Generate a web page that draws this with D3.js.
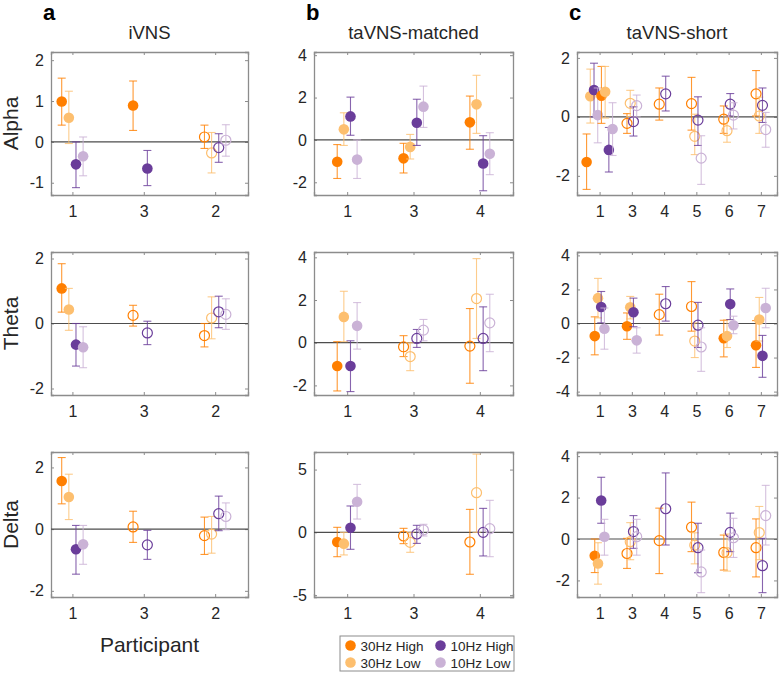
<!DOCTYPE html>
<html>
<head>
<meta charset="utf-8">
<script src="https://cdn.jsdelivr.net/npm/d3@7/dist/d3.min.js"></script>
<style>
  body { margin: 0; background: #fff; }
  svg { font-family: "Liberation Sans", Arial, Helvetica, sans-serif; }
</style>
</head>
<body>
<div id="vis"></div>
<script>
// Conditions, in the order markers sit around each participant
var conditions = ['30Hz High', '30Hz Low', '10Hz High', '10Hz Low'];
var condColors = ['#ff7f00', '#fdbf6f', '#6a3d9a', '#cab2d6'];

var bands = ['Alpha', 'Theta', 'Delta'];
var groups = ['iVNS', 'taVNS-matched', 'taVNS-short'];
var letters = ['a', 'b', 'c'];

// y axis ranges and ticks, row by row (a, b, c)
var yDomains = [
  [[-1.3, 2.2], [-2.6, 4.15], [-2.65, 2.2]],
  [[-2.2, 2.2], [-2.45, 4.25], [-4.2, 4.2]],
  [[-2.2, 2.5], [-5.15, 6.4], [-2.8, 4.2]]
];
var yTicks = [
  [[-1, 0, 1, 2], [-2, 0, 2, 4], [-2, 0, 2]],
  [[-2, 0, 2], [-2, 0, 2, 4], [-4, -2, 0, 2, 4]],
  [[-2, 0, 2], [-5, 0, 5], [-2, 0, 2, 4]]
];

// each row: participant, filled marker?, then [mean, lower, upper] per condition
// (null = condition not recorded)
var alphaA = [
  ['1', 1, [0.99, 0.41, 1.56], [0.59, -0.04, 1.24], [-0.55, -1.12, 0.0], [-0.35, -0.83, 0.12]],
  ['3', 1, [0.89, 0.28, 1.49], null, [-0.65, -1.07, -0.21], null],
  ['2', 0, [0.12, -0.16, 0.41], [-0.27, -0.76, 0.23], [-0.14, -0.5, 0.2], [0.04, -0.35, 0.42]]
];
var alphaB = [
  ['1', 1, [-1.03, -1.82, -0.22], [0.5, -0.26, 1.28], [1.11, 0.22, 2.02], [-0.93, -1.82, 0.0]],
  ['3', 1, [-0.87, -1.56, -0.16], [-0.33, -0.9, 0.26], [0.81, -0.26, 1.92], [1.57, 0.59, 2.54]],
  ['4', 1, [0.83, -0.44, 2.07], [1.68, 0.31, 3.05], [-1.11, -2.4, 0.2], [-0.65, -1.64, 0.34]]
];
var alphaC = [
  ['1', 1, [-1.53, -2.46, -0.58], [0.7, -0.21, 1.62], [0.91, 0.0, 1.82], [0.06, -0.88, 0.98],
           [0.72, -0.22, 1.71], [0.85, -0.04, 1.71], [-1.12, -1.87, -0.36], [-0.41, -1.31, 0.48]],
  ['3', 0, [-0.22, -0.56, 0.11], [0.46, 0.01, 0.9], [-0.16, -0.65, 0.34], [0.38, 0.0, 0.74]],
  ['4', 0, [0.43, -0.11, 0.98], null, [0.78, 0.2, 1.38], null],
  ['5', 0, [0.45, -0.45, 1.34], [-0.66, -1.28, 0.09], [-0.11, -0.97, 0.68], [-1.4, -2.29, -0.64]],
  ['6', 0, [-0.08, -0.56, 0.37], [-0.47, -0.86, 0.03], [0.43, 0.03, 0.79], [0.06, -0.41, 0.48]],
  ['7', 0, [0.78, 0.03, 1.57], [0.03, -0.56, 0.67], [0.39, -0.19, 0.98], [-0.43, -1.03, 0.15]]
];

var thetaA = [
  ['1', 1, [1.08, 0.35, 1.84], [0.43, -0.21, 1.08], [-0.65, -1.31, 0.0], [-0.73, -1.36, -0.1]],
  ['3', 0, [0.25, -0.08, 0.56], null, [-0.29, -0.65, 0.07], null],
  ['2', 0, [-0.37, -0.72, 0.0], [0.17, -0.47, 0.82], [0.36, -0.13, 0.84], [0.28, -0.18, 0.76]]
];
var thetaB = [
  ['1', 1, [-1.09, -2.26, 0.05], [1.21, 0.05, 2.41], [-1.09, -2.29, 0.09], [0.79, -0.3, 1.88]],
  ['3', 0, [-0.19, -0.65, 0.33], [-0.65, -1.31, 0.0], [0.2, -0.22, 0.62], [0.59, 0.09, 1.09]],
  ['4', 0, [-0.16, -1.9, 1.6], [2.07, 0.2, 3.94], [0.2, -1.31, 1.68], [0.93, -0.42, 2.27]]
];
var thetaC = [
  ['1', 1, [-0.74, -1.84, 0.39], [1.49, 0.33, 2.65], [0.97, 0.04, 1.88], [-0.31, -1.51, 0.91]],
  ['3', 1, [-0.16, -0.93, 0.62], [0.95, 0.27, 1.59], [0.66, -0.19, 1.49], [-0.99, -1.74, -0.25]],
  ['4', 0, [0.52, -0.68, 1.72], null, [1.16, 0.14, 2.17], null],
  ['5', 0, [1.0, -0.45, 2.46], [-1.03, -2.0, 0.04], [-0.1, -1.41, 1.24], [-1.38, -2.81, -0.25]],
  ['6', 1, [-0.87, -1.96, 0.19], [-0.74, -1.41, 0.23], [1.14, 0.23, 2.03], [-0.1, -0.6, 0.43]],
  ['7', 1, [-1.28, -2.58, 0.17], [0.23, -1.03, 1.53], [-1.9, -3.16, -0.7], [0.91, -0.25, 2.07]]
];

var deltaA = [
  ['1', 1, [1.56, 0.82, 2.32], [1.04, 0.31, 1.78], [-0.65, -1.46, 0.12], [-0.49, -1.14, 0.12]],
  ['3', 0, [0.07, -0.43, 0.58], null, [-0.51, -0.98, -0.04], null],
  ['2', 0, [-0.21, -0.82, 0.39], [-0.16, -0.78, 0.41], [0.5, -0.05, 1.07], [0.41, -0.02, 0.85]]
];
var deltaB = [
  ['1', 1, [-0.77, -1.94, 0.4], [-0.9, -1.8, 0.0], [0.37, -1.35, 2.1], [2.44, 1.06, 3.82]],
  ['3', 0, [-0.29, -0.9, 0.32], [-0.8, -1.59, 0.0], [-0.13, -0.88, 0.56], [0.19, -0.29, 0.64]],
  ['4', 0, [-0.77, -3.34, 1.83], [3.16, 0.0, 6.23], [0.0, -1.88, 1.91], [0.29, -1.94, 2.55]]
];
var deltaC = [
  ['1', 1, [-0.81, -1.62, 0.0], [-1.18, -2.18, -0.18], [1.86, 0.76, 2.98], [0.11, -0.78, 0.95]],
  ['3', 0, [-0.7, -1.42, 0.03], [-0.13, -1.0, 0.79], [0.36, -0.45, 1.13], [0.11, -0.78, 0.95]],
  ['4', 0, [-0.08, -1.67, 1.49], null, [1.46, -0.29, 3.19], null],
  ['5', 0, [0.57, -0.61, 1.78], [-0.3, -1.2, 0.3], [-0.42, -1.63, 0.76], [-1.59, -2.59, -0.53]],
  ['6', 0, [-0.65, -1.5, 0.19], [-0.66, -1.55, 0.24], [0.32, -0.61, 1.25], [0.06, -0.89, 1.0]],
  ['7', 0, [-0.42, -1.83, 0.97], [0.31, -1.0, 1.57], [-1.29, -2.59, 0.03], [1.13, -0.29, 2.59]]
];

var panelData = [
  [alphaA, alphaB, alphaC],
  [thetaA, thetaB, thetaC],
  [deltaA, deltaB, deltaC]
];

// Layout in pixels
var width = 779, height = 674;
var colX = [[51, 248], [314, 513], [577, 777]];
var rowY = [[52, 195], [252, 395], [452, 597]];
var xDomains = [[0.7, 3.46], [0.5, 3.5], [0.3, 6.5]];
var boxColor = '#8c8c8c';
var textColor = '#262626';

var svg = d3.select('#vis').append('svg')
  .attr('width', width)
  .attr('height', height);

function drawPanel(row, col) {
  var data = panelData[row][col];
  var x = d3.scaleLinear().domain(xDomains[col]).range(colX[col]);
  var y = d3.scaleLinear().domain(yDomains[row][col]).range([rowY[row][1], rowY[row][0]]);
  var g = svg.append('g');
  var labels = data.map(function (d) { return d[0]; });
  var xTickVals = labels.map(function (d, i) { return i + 1; });

  // white plot area
  g.append('rect')
    .attr('x', colX[col][0]).attr('y', rowY[row][0])
    .attr('width', colX[col][1] - colX[col][0])
    .attr('height', rowY[row][1] - rowY[row][0])
    .attr('fill', '#fff');

  // axes, MATLAB style: ticks pointing inwards on every side
  var left = g.append('g')
    .attr('transform', 'translate(' + colX[col][0] + ',0)')
    .call(d3.axisLeft(y).tickValues(yTicks[row][col]).tickSize(-3).tickPadding(7)
      .tickFormat(function (d) { return d; }));
  var right = g.append('g')
    .attr('transform', 'translate(' + colX[col][1] + ',0)')
    .call(d3.axisRight(y).tickValues(yTicks[row][col]).tickSize(-3).tickFormat(''));
  var bottom = g.append('g')
    .attr('transform', 'translate(0,' + rowY[row][1] + ')')
    .call(d3.axisBottom(x).tickValues(xTickVals).tickSize(-3).tickPadding(11)
      .tickFormat(function (d) { return labels[d - 1]; }));
  var top = g.append('g')
    .attr('transform', 'translate(0,' + rowY[row][0] + ')')
    .call(d3.axisTop(x).tickValues(xTickVals).tickSize(-3).tickFormat(''));

  [left, right, bottom, top].forEach(function (ax) {
    ax.select('.domain').attr('stroke', boxColor).attr('stroke-width', 1.3);
    ax.selectAll('.tick line').attr('stroke', boxColor);
    ax.selectAll('.tick text')
      .attr('fill', textColor)
      .style('font-size', '16px')
      .style('font-family', '"Liberation Sans", Arial, sans-serif');
  });

  // zero line
  g.append('line')
    .attr('x1', colX[col][0]).attr('x2', colX[col][1])
    .attr('y1', y(0)).attr('y2', y(0))
    .attr('stroke', '#4d4d4d')
    .attr('stroke-width', 1.2);

  // flatten into marker records
  var marks = [];
  data.forEach(function (d, i) {
    var vals = d.slice(2);
    var n = vals.length;
    var step = n > 4 ? 0.115 : 0.1;
    vals.forEach(function (v, j) {
      if (v === null) { return; }
      marks.push({
        x: i + 1 + (j - (n - 1) / 2) * step,
        mean: v[0], lo: v[1], hi: v[2],
        cond: j % 4,
        filled: d[1] === 1
      });
    });
  });

  var mg = g.selectAll('.mark')
    .data(marks)
    .enter().append('g')
    .attr('class', 'mark');

  mg.append('line')
    .attr('x1', function (d) { return x(d.x); })
    .attr('x2', function (d) { return x(d.x); })
    .attr('y1', function (d) { return y(d.lo); })
    .attr('y2', function (d) { return y(d.hi); })
    .attr('stroke', function (d) { return condColors[d.cond]; })
    .attr('stroke-opacity', 0.8)
    .attr('stroke-width', 1.1);

  ['lo', 'hi'].forEach(function (k) {
    mg.append('line')
      .attr('x1', function (d) { return x(d.x) - 4; })
      .attr('x2', function (d) { return x(d.x) + 4; })
      .attr('y1', function (d) { return y(d[k]); })
      .attr('y2', function (d) { return y(d[k]); })
      .attr('stroke', function (d) { return condColors[d.cond]; })
      .attr('stroke-opacity', 0.8)
      .attr('stroke-width', 1.1);
  });

  mg.append('circle')
    .attr('cx', function (d) { return x(d.x); })
    .attr('cy', function (d) { return y(d.mean); })
    .attr('r', function (d) { return d.filled ? 5.3 : 5; })
    .attr('fill', function (d) { return d.filled ? condColors[d.cond] : 'none'; })
    .attr('stroke', function (d) { return condColors[d.cond]; })
    .attr('stroke-width', function (d) { return d.filled ? 0 : 1.2; });

  // row label on the left column
  if (col === 0) {
    var cy = (rowY[row][0] + rowY[row][1]) / 2;
    svg.append('text')
      .attr('transform', 'translate(18,' + cy + ') rotate(-90)')
      .attr('text-anchor', 'middle')
      .attr('fill', textColor)
      .style('font-size', '21px')
      .text(bands[row]);
  }
  // column titles
  if (row === 0) {
    var cx = (colX[col][0] + colX[col][1]) / 2;
    svg.append('text')
      .attr('x', cx).attr('y', 39)
      .attr('text-anchor', 'middle')
      .attr('fill', textColor)
      .style('font-size', '18.5px')
      .text(groups[col]);
    svg.append('text')
      .attr('x', colX[col][0] - 8).attr('y', 20)
      .attr('fill', '#000')
      .style('font-size', '22px')
      .style('font-weight', 'bold')
      .text(letters[col]);
  }
}

for (var r = 0; r < 3; r++) {
  for (var c = 0; c < 3; c++) {
    drawPanel(r, c);
  }
}

// x label
svg.append('text')
  .attr('x', (colX[0][0] + colX[0][1]) / 2)
  .attr('y', 652)
  .attr('text-anchor', 'middle')
  .attr('fill', textColor)
  .style('font-size', '21px')
  .text('Participant');

// legend
var legend = svg.append('g');
legend.append('rect')
  .attr('x', 340).attr('y', 636)
  .attr('width', 174).attr('height', 35)
  .attr('fill', '#fff')
  .attr('stroke', boxColor)
  .attr('stroke-width', 1);

var legendPos = [[350.5, 645.5], [350.5, 662.5], [440.5, 645.5], [440.5, 662.5]];
conditions.forEach(function (name, i) {
  legend.append('circle')
    .attr('cx', legendPos[i][0]).attr('cy', legendPos[i][1])
    .attr('r', 5.3)
    .attr('fill', condColors[i]);
  legend.append('text')
    .attr('x', legendPos[i][0] + 10).attr('y', legendPos[i][1] + 5)
    .attr('fill', textColor)
    .style('font-size', '13.5px')
    .text(name);
});
</script>
</body>
</html>
